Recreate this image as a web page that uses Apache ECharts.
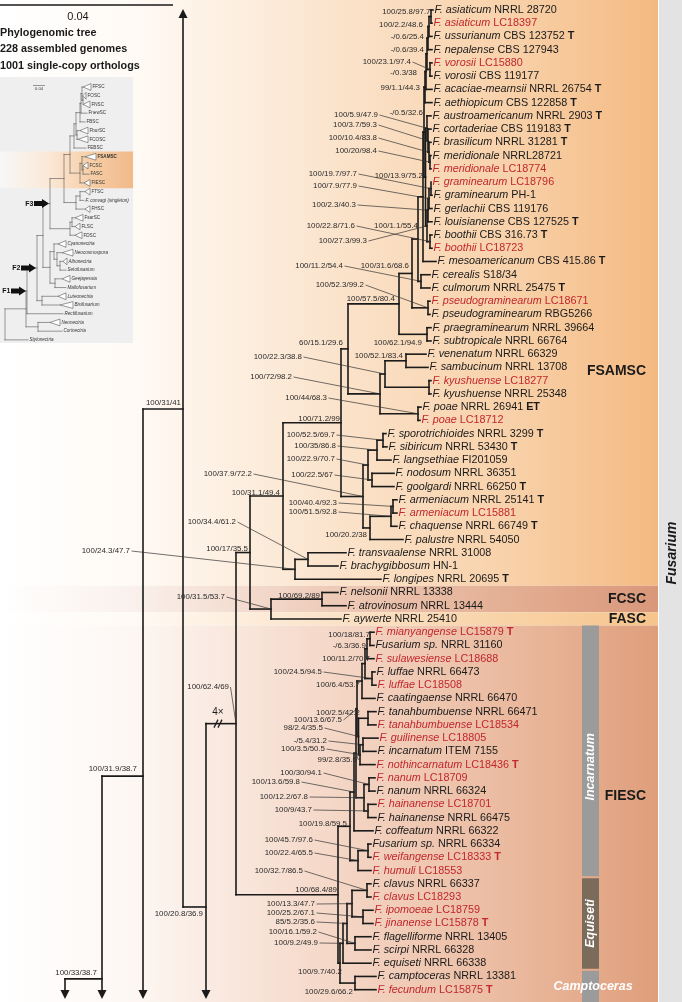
<!DOCTYPE html>
<html><head><meta charset="utf-8">
<script src="https://cdn.jsdelivr.net/npm/echarts@6/dist/echarts.min.js"></script>
<style>html,body{margin:0;padding:0;background:#fff;}#chart{width:682px;height:1002px;}</style>
</head><body><div id="chart"></div>
<script>
// ================= DATA =================
const leafSpecies = ['F. asiaticum','F. asiaticum','F. ussurianum','F. nepalense','F. vorosii','F. vorosii','F. acaciae-mearnsii','F. aethiopicum','F. austroamericanum','F. cortaderiae','F. brasilicum','F. meridionale','F. meridionale','F. graminearum','F. graminearum','F. gerlachii','F. louisianense','F. boothii','F. boothii','F. mesoamericanum','F. cerealis','F. culmorum','F. pseudograminearum','F. pseudograminearum','F. praegraminearum','F. subtropicale','F. venenatum','F. sambucinum','F. kyushuense','F. kyushuense','F. poae','F. poae','F. sporotrichioides','F. sibiricum','F. langsethiae','F. nodosum','F. goolgardi','F. armeniacum','F. armeniacum','F. chaquense','F. palustre','F. transvaalense','F. brachygibbosum','F. longipes','F. nelsonii','F. atrovinosum','F. aywerte','F. mianyangense','Fusarium sp.','F. sulawesiense','F. luffae','F. luffae','F. caatingaense','F. tanahbumbuense','F. tanahbumbuense','F. guilinense','F. incarnatum','F. nothincarnatum','F. nanum','F. nanum','F. hainanense','F. hainanense','F. coffeatum','Fusarium sp.','F. weifangense','F. humuli','F. clavus','F. clavus','F. ipomoeae','F. jinanense','F. flagelliforme','F. scirpi','F. equiseti','F. camptoceras','F. fecundum'];
const leafStrain = ['NRRL 28720','LC18397','CBS 123752','CBS 127943','LC15880','CBS 119177','NRRL 26754','CBS 122858','NRRL 2903','CBS 119183','NRRL 31281','NRRL28721','LC18774','LC18796','PH-1','CBS 119176','CBS 127525','CBS 316.73','LC18723','CBS 415.86','S18/34','NRRL 25475','LC18671','RBG5266','NRRL 39664','NRRL 66764','NRRL 66329','NRRL 13708','LC18277','NRRL 25348','NRRL 26941','LC18712','NRRL 3299','NRRL 53430','FI201059','NRRL 36351','NRRL 66250','NRRL 25141','LC15881','NRRL 66749','NRRL 54050','NRRL 31008','HN-1','NRRL 20695','NRRL 13338','NRRL 13444','NRRL 25410','LC15879','NRRL 31160','LC18688','NRRL 66473','LC18508','NRRL 66470','NRRL 66471','LC18534','LC18805','ITEM 7155','LC18436','LC18709','NRRL 66324','LC18701','NRRL 66475','NRRL 66322','NRRL 66334','LC18333','LC18553','NRRL 66337','LC18293','LC18759','LC15878','NRRL 13405','NRRL 66328','NRRL 66338','NRRL 13381','LC15875'];
const leafMark = ['','','T','','','','T','T','T','T','T','','','','','','T','T','','T','','T','','','','','','','','','ET','','T','T','','','T','T','','T','','','','T','','','','T','','','','','','','','','','T','','','','','','','T','','','','','T','','','','','T'];
const leafNew = [0,1,0,0,1,0,0,0,0,0,0,0,1,1,0,0,0,0,1,0,0,0,1,0,0,0,0,0,1,0,0,1,0,0,0,0,0,0,1,0,0,0,0,0,0,0,0,1,0,1,0,1,0,0,1,1,0,1,1,0,1,0,0,0,1,1,0,1,1,1,0,0,0,0,1];
// depth (x) of each tip, same units as the internal-node depths below (173 units = 0.04 subst./site)
const leafDepth = [433,432,432,432,432,432,432,432,431,431,431,431,431,431,432,432,432,432,432,436,430,430,430,430,431,431,426,428,431,431,421,420,386,387,391,394,394,397,397,397,403,346,338,381,338,346,341,374,374,374,375,376,375,376,376,378,376,375,375,375,376,376,373,371,371,371,371,371,373,373,371,371,371,376,376];

// tree nodes: [id, depth, childA, childB]; numbers = tips; {off} = subtree outside the picture (leaf-row position)
const cladeGraminearum = ['FG', 423,
  ['FGa', 424,
    ['FGb', 425,
      ['FGb1', 426,
        ['FGb2', 427,
          ['FGb3', 428, ['FGb4', 429, ['AS', 431, 1, 2], 3], 4],
          ['VO', 430, 5, 6]],
        7],
      8],
    ['FGc', 425.5,
      ['FGd', 427, 9, ['FGd1', 428, 10, ['FGd2', 429, 11, ['ME', 430, 12, 13]]]],
      ['FGe', 427, ['FGe1', 428, ['FGe2', 429, ['GR', 431, 14, 15], 16], 17], ['BO', 430, 18, 19]]]],
  20];
const cladeSambucinum = ['SROOT', 341,
  ['S1', 348,
    ['S2', 399,
      ['S4', 412, ['S6', 418, cladeGraminearum, ['CC', 421, 21, 22]], ['PG', 428, 23, 24]],
      ['PS', 427, 25, 26]],
    ['S3', 380,
      ['K', 385, ['V', 406, 27, 28], ['KY', 429, 29, 30]],
      ['PO', 418, 31, 32]]],
  ['SP', 363,
    ['N368', 368, ['SL', 377, ['SS', 383, 33, 34], 35], ['NG', 372, 36, 37]],
    ['AP', 370, ['AC', 391, ['AR', 393, 38, 39], 40], 41]]];
const cladeFSAMSC = ['X283', 283, cladeSambucinum, ['X295', 295, ['X308', 308, 42, 43], 44]];
const cladeFCSCFASC = ['X271', 271, ['NA', 322, 45, 46], 47];
const cladeIncarnatum = ['I1', 350,
  ['I2', 354,
    ['I4', 356,
      ['J4', 357,
        ['I7', 362, ['I9', 365, ['I10', 367, ['MF', 370, 48, 49], 50], ['LF', 372, 51, 52]], 53],
        ['J3', 358.5, ['TB', 368, 54, 55], ['J2', 360, ['J1', 363, 56, 57], 58]]],
      ['I6', 364, ['NN', 369, 59, 60], ['HN', 368, 61, 62]]],
    63],
  ['I3', 358, ['WF', 368, 64, 65], 66]];
const cladeEquiseti = ['E0', 340,
  ['E1', 343, ['E2', 347, ['E3', 352, ['CL', 367, 67, 68], ['IJ', 363, 69, 70]], ['FS', 355, 71, 72]], 73],
  ['C1', 355, 74, 75]];
const cladeFIESC = ['I0', 338, cladeIncarnatum, cladeEquiseti];
const backbone = ['G', 65,
  ['F', 102,
    ['E', 143,
      ['D', 183, {off: -6.47},
        ['C', 206, ['A', 236, ['B', 250, cladeFSAMSC, cladeFCSCFASC], cladeFIESC], {off: 82.6}]],
      {off: 86.6}],
    {off: 89.5}],
  {off: 100}];
const brokenBranch = {node: 'A', text: '4×'};

// support values (UFBoot / gCF / sCF)
const supportNodes = ['AS','FGb4','FGb3','FGb2','VO','FGb1','FGb','FGa','FGd','FGd1','FGd2','ME','FGc','GR','FGe2','FGe1','BO','FG','FGe','CC','S4','PG','S2','PS','S1','V','K','S3','PO','SROOT','SS','SL','N368','SP','NG','X283','AR','AC','AP','X308','X295','B','X271','NA','A','D','E','F','C','MF','I10','I9','LF','I7','TB','J4','J3','J1','J2','I4','NN','I2','I6','HN','I1','WF','I3','CL','I0','E3','IJ','E2','FS','E1','E0','C1'];
const supportText = ['100/25.8/97.7','100/2.2/48.6','-/0.6/25.4','-/0.6/39.4','100/23.1/97.4','-/0.3/38','99/1.1/44.3','-/0.5/32.6','100/5.9/47.9','100/3.7/59.3','100/10.4/83.8','100/20/98.4','100/13.9/75.2','100/19.7/97.7','100/7.9/77.9','100/2.3/40.3','100/22.8/71.6','100/1.1/55.4','100/27.3/99.3','100/11.2/54.4','100/31.6/68.6','100/52.3/99.2','100/57.5/80.4','100/62.1/94.9','60/15.1/29.6','100/52.1/83.4','100/22.3/38.8','100/72/98.2','100/44/68.3','100/71.2/99','100/52.5/69.7','100/35/86.8','100/22.9/70.7','100/37.9/72.2','100/22.5/67','100/31.1/49.4','100/40.4/92.3','100/51.5/92.8','100/20.2/38','100/34.4/61.2','100/24.3/47.7','100/17/35.5','100/31.5/53.7','100/69.2/89','100/62.4/69','100/31/41','100/31.9/38.7','100/33/38.7','100/20.8/36.9','100/18/81.7','-/6.3/36.9','100/11.2/70.7','100/24.5/94.5','100/6.4/53.7','100/2.5/42.2','100/13.6/67.5','98/2.4/35.5','-/5.4/31.2','100/3.5/50.5','99/2.8/35.6','100/30/94.1','100/13.6/59.8','100/12.2/67.8','100/9/43.7','100/19.8/59.5','100/45.7/97.6','100/22.4/65.5','100/32.7/86.5','100/68.4/89','100/13.3/47.7','100/25.2/67.1','85/5.2/35.6','100/16.1/59.2','100/9.2/49.9','100/9.7/40.2','100/29.6/66.2'];

const cladeNames = ['FSAMSC','FCSC','FASC','FIESC'];
const cladeFirst = [1,45,47,48];
const cladeLast = [44,46,47,75];
const subcladeNames = ['Incarnatum','Equiseti','Camptoceras'];
const subcladeFirst = [48,67,74];
const subcladeLast = [66,73,75];
const genusName = 'Fusarium';
const titleLines = ['Phylogenomic tree','228 assembled genomes','1001 single-copy orthologs'];
const scaleBarLabel = '0.04';
const scaleBarDepth = 173;

// inset overview tree
const insetNames = ['FFSC','FOSC','FNSC','FnewSC','FBSC','FburSC','FCOSC','FEBSC','FSAMSC','FCSC','FASC','FIESC','FTSC','F. convagi (singleton)','FHSC','FsarSC','FLSC','FDSC','Cyanonectria','Neocosmospora','Albonectria','Setofusarium','Geejayessia','Mallofusarium','Luteonectria','Bisifusarium','Rectifusarium','Neonectria','Corinectria','Stylonectria'];
const insetTip = [91,86,90,87,85,88,88,86,96,88,89,90,90,84,90,83,80,82,66,73,67,66,70,66,66,73,63,60,62,28];
const insetCollapsedFrom = [83,83,83,0,0,80,78,0,85,83,0,84,85,0,85,75,75,75,58,62,63,0,62,0,58,60,0,50,0,0];
const insetItalic = [0,0,0,0,0,0,0,0,0,0,0,0,0,1,0,0,0,0,1,1,1,1,1,1,1,1,1,1,1,1];
const insetTree = ['r', 5,
  ['r1', 26,
    ['F1', 27,
      ['F2', 37,
        ['x2', 43,
          ['F3', 50,
            ['c1', 64,
              ['c2', 70,
                ['c3', 74, ['c4', 76, ['c5', 80, ['c6', 81, ['c7', 82, 1, ['c8', 83, 2, 3]], 4], 5], ['c9', 77, 6, 7]], 8],
                ['c10', 80, ['c11', 82, 9, ['c12', 83, 10, 11]], 12]],
              ['c13', 76, ['c14', 80, 13, 14], 15]],
            ['fb', 70, ['fb1', 72, 16, 17], 18]],
          ['x3', 50, ['x4', 54, 19, ['x5', 57, 20, ['x6', 60, 21, 22]]], ['x7', 55, 23, 24]]],
        ['x8', 42, 25, 26]],
      27],
    ['nc', 38, 28, 29]],
  30];
const insetArrows = ['F1','F2','F3'];
const insetHighlightFirst = 9, insetHighlightLast = 12;

// ================= LAYOUT (positions of annotations, px) =================
const supportPos = [[430.5,12,0],[423,25,0],[424,36.5,0],[424,50,0],[411,62,1],[417,73,0],[420,88,0],[423,113,0],[378,115,1],[377,125,1],[377,138,1],[377,151,1],[423,176,0],[357,174,1],[357,186,1],[356,205,1],[355,226,1],[418,226,0],[367,241,1],[343,266,1],[409,266,0],[364,285,1],[395,299,0],[422,343,0],[343,343,0],[403,356,0],[302,357,1],[292,377,1],[327,398,1],[340,419,0],[335,435,1],[336,446,1],[335,459,1],[252,474,1],[333,475,1],[280,493,0],[337,503,1],[337,512,1],[367,535,0],[236,522,1],[130,551,1],[248,549,0],[225,597,1],[320,596,0],[229,687,1],[181,403,0],[137,769,0],[97,973,0],[203,914,0],[370,635,0],[366,646,0],[370,659,0],[322,672,1],[360,685,0],[360,713,0],[342,720,1],[323,728,1],[327,741,1],[325,749,1],[357,760,1],[322,773,1],[300,782,1],[308,797,1],[312,810,1],[347,824,0],[313,840,1],[313,853,1],[303,871,1],[337,890,0],[315,904,1],[315,913,1],[315,922,1],[317,932,1],[318,943,1],[342,972,0],[353,992,0]];
const cladeLabelRow = [28.3,45.5,47,60.4];

// ================= RENDER =================
const FONT = '"Liberation Sans", Arial, Helvetica, sans-serif';
const INK = '#1a1a1a', RED = '#c1272d';
const ROW0 = 0.25, ROWPX = 13.24;

function layoutTree(n, depthOf, reg) {
  if (typeof n === 'number') return {leaf: n, d: depthOf(n), y: n};
  if (!Array.isArray(n)) return {off: true, y: n.off};
  const a = layoutTree(n[2], depthOf, reg), b = layoutTree(n[3], depthOf, reg);
  const o = {id: n[0], d: n[1], y: (a.y + b.y) / 2, kids: [a, b]};
  reg[n[0]] = o;
  return o;
}
const mainReg = {};
const mainRoot = layoutTree(backbone, i => leafDepth[i - 1], mainReg);
const insetReg = {};
const insetRoot = layoutTree(insetTree, i => insetCollapsedFrom[i - 1] || insetTip[i - 1], insetReg);

function seg(x1, y1, x2, y2, stroke, lw, cap) {
  return {type: 'line', shape: {x1, y1, x2, y2}, style: {stroke, lineWidth: lw, lineCap: cap || 'square'}};
}
function txt(x, y, text, o) {
  return {type: 'text', x, y, rotation: o.rot || 0, style: Object.assign({text, fontFamily: FONT, fontSize: 10, fill: INK, align: 'left', verticalAlign: 'middle'}, o.style)};
}
function drawBranches(o, api, out, opt) {
  const x = api.coord([o.d, o.y])[0];
  const ys = o.kids.map(k => k.off ? (k.y < o.y ? opt.top : opt.bottom) : api.coord([o.d, k.y])[1]);
  out.push(seg(x, ys[0], x, ys[1], opt.stroke, opt.lw));
  o.kids.forEach((k, i) => {
    if (k.off) {
      const dir = k.y < o.y ? -1 : 1;
      out.push({type: 'polygon', shape: {points: [[x - 4.5, ys[i]], [x + 4.5, ys[i]], [x, ys[i] + dir * 9]]}, style: {fill: opt.stroke}});
      return;
    }
    const p = api.coord([k.d, k.y]);
    out.push(seg(x, p[1], p[0], p[1], opt.stroke, opt.lw));
    if (k.leaf) opt.onLeaf(k, p, out);
    else drawBranches(k, api, out, opt);
  });
}
function grad(stops) {
  return new echarts.graphic.LinearGradient(0, 0, 1, 0, stops.map(s => ({offset: s[0], color: s[1]})));
}
const cladeFill = [
  [[0,'#ffffff'],[0.2,'#fffaf5'],[0.5,'#fbe4cd'],[0.78,'#f8d1a9'],[1,'#f4b981']],
  [[0,'#ffffff'],[0.2,'#faf1ec'],[0.5,'#eecbb9'],[0.78,'#e3ae93'],[1,'#d9977a']],
  [[0,'#ffffff'],[0.2,'#fffaf4'],[0.5,'#fbe3c8'],[0.78,'#f8d2a6'],[1,'#f6c48c']],
  [[0,'#ffffff'],[0.2,'#fdf7f3'],[0.5,'#f5d8c8'],[0.78,'#eab99e'],[1,'#df9e7b']]
];
const subFill = ['#9b9b9b','#7b6b5b','#9b9b9b'];

function renderMain(params, api) {
  const cs = params.coordSys;
  const out = [];
  const Y = r => api.coord([0, r])[1];
  // clade bands
  cladeNames.forEach((nm, k) => {
    const y0 = k === 0 ? cs.y : Y(cladeFirst[k] - 0.5);
    const y1 = k === cladeNames.length - 1 ? cs.y + cs.height : Y(cladeLast[k] + 0.5);
    out.push({type: 'rect', shape: {x: cs.x, y: y0, width: 658, height: y1 - y0}, style: {fill: grad(cladeFill[k])}});
  });
  out.push({type: 'rect', shape: {x: 659, y: cs.y, width: 23, height: cs.height}, style: {fill: '#e3e3e3'}});
  // subclade bars
  subcladeNames.forEach((nm, k) => {
    const y0 = Y(subcladeFirst[k] - 0.5) + (k ? 1 : 0), y1 = k === 2 ? cs.y + cs.height : Y(subcladeLast[k] + 0.5) - 1;
    out.push({type: 'rect', shape: {x: 582, y: y0, width: 17, height: y1 - y0}, style: {fill: subFill[k]}});
    const st = {fontSize: 12.5, fontWeight: 'bold', fontStyle: 'italic', fill: '#ffffff', align: 'center'};
    if (k === 2) out.push(txt(593, (y0 + y1) / 2, nm, {style: st}));
    else out.push(txt(591, (y0 + y1) / 2 + (k === 0 ? 16 : 0), nm, {rot: Math.PI / 2, style: st}));
  });
  // clade names
  cladeNames.forEach((nm, k) => out.push(txt(646, Y(cladeLabelRow[k]), nm, {style: {fontSize: 14, fontWeight: 'bold', align: 'right'}})));
  out.push(txt(672, 553, genusName, {rot: Math.PI / 2, style: {fontSize: 14, fontWeight: 'bold', fontStyle: 'italic', align: 'center'}}));
  // title & scale bar
  const x0 = api.coord([0, 1])[0], xs = api.coord([scaleBarDepth, 1])[0];
  out.push(seg(x0, 5, xs, 5, INK, 1.4, 'butt'));
  out.push(txt(78, 16.5, scaleBarLabel, {style: {fontSize: 11, align: 'center'}}));
  titleLines.forEach((t, k) => out.push(txt(0, 33 + k * 16.5, t, {style: {fontSize: 10.8, fontWeight: 'bold'}})));
  // tree
  drawBranches(mainRoot, api, out, {
    top: cs.y + 18, bottom: cs.y + cs.height - 12, stroke: INK, lw: 1.6,
    onLeaf: (k, p, o) => {
      const i = k.leaf - 1, col = leafNew[i] ? RED : INK;
      const base = {fontFamily: FONT, fontSize: 10.8, fill: col, color: col};
      const rich = {i: Object.assign({fontStyle: 'italic'}, base), b: Object.assign({fontWeight: 'bold'}, base)};
      const t = '{i|' + leafSpecies[i] + '} ' + leafStrain[i] + (leafMark[i] ? ' {b|' + leafMark[i] + '}' : '');
      o.push(txt(p[0] + 1.5, p[1], t, {style: {fontSize: 10.8, fill: col, rich}}));
    }
  });
  // broken branch mark
  const bn = mainReg[brokenBranch.node];
  const bp = api.coord([bn.d, bn.y]);
  const bx = bp[0] - 19;
  out.push(txt(bx + 1, bp[1] - 11, brokenBranch.text, {style: {fontSize: 10, align: 'center'}}));
  [0, 4].forEach(dx => out.push(seg(bx - 3 + dx, bp[1] + 4, bx + 1 + dx, bp[1] - 4, INK, 1.2, 'butt')));
  // support labels
  supportNodes.forEach((id, k) => {
    const [rx, ry, lead] = supportPos[k];
    out.push(txt(rx, ry, supportText[k], {style: {fontSize: 7.9, fill: '#2a2a2a', align: 'right'}}));
    if (lead) {
      const n = mainReg[id], p = api.coord([n.d, n.y]);
      out.push(seg(rx + 1.5, ry, p[0], p[1], '#333', 0.7, 'butt'));
    }
  });
  return {type: 'group', children: out};
}

function renderInset(params, api) {
  const cs = params.coordSys;
  const out = [];
  const Y = r => api.coord([0, r])[1];
  out.push({type: 'rect', shape: {x: cs.x, y: cs.y, width: cs.width, height: cs.height}, style: {fill: '#efefef'}});
  const h0 = Y(insetHighlightFirst - 0.6), h1 = Y(insetHighlightLast + 0.6);
  out.push({type: 'rect', shape: {x: cs.x, y: h0, width: cs.width, height: h1 - h0}, style: {fill: grad([[0,'#f7f7f7'],[0.35,'#fbe9d8'],[0.7,'#f6cda5'],[1,'#f1b98a']])}});
  drawBranches(insetRoot, api, out, {
    top: cs.y, bottom: cs.y + cs.height, stroke: '#555', lw: 0.6,
    onLeaf: (k, p, o) => {
      const i = k.leaf - 1;
      const tip = api.coord([insetTip[i], k.y]);
      if (insetCollapsedFrom[i]) o.push({type: 'polygon', shape: {points: [[p[0], p[1]], [tip[0], p[1] - 3.4], [tip[0], p[1] + 3.4]]}, style: {fill: '#ffffff', stroke: '#555', lineWidth: 0.6}});
      o.push(txt(tip[0] + 1.5, p[1], insetNames[i], {style: {fontSize: 4.6, fill: '#333', fontStyle: insetItalic[i] ? 'italic' : 'normal', fontWeight: insetNames[i] === 'FSAMSC' ? 'bold' : 'normal'}}));
    }
  });
  // scale bar
  const s0 = api.coord([33, 0])[0], s1 = api.coord([33 + scaleBarDepth * 12 / 173, 0])[0];
  out.push(seg(s0, 85.5, s1, 85.5, '#555', 0.6, 'butt'));
  out.push(txt((s0 + s1) / 2, 89, scaleBarLabel, {style: {fontSize: 4.4, fill: '#444', align: 'center'}}));
  // node arrows
  insetArrows.forEach(id => {
    const n = insetReg[id], p = api.coord([n.d, n.y]);
    const tx = p[0] - 1, y = p[1];
    out.push({type: 'polygon', shape: {points: [[tx - 15, y - 2.5], [tx - 7, y - 2.5], [tx - 7, y - 4.5], [tx, y], [tx - 7, y + 4.5], [tx - 7, y + 2.5], [tx - 15, y + 2.5]]}, style: {fill: '#111'}});
    out.push(txt(tx - 15.5, y, id, {style: {fontSize: 7, fontWeight: 'bold', align: 'right', fill: '#111'}}));
  });
  return {type: 'group', children: out};
}

const chart = echarts.init(document.getElementById('chart'), null, {renderer: 'canvas'});
chart.setOption({
  backgroundColor: '#ffffff',
  animation: false,
  grid: [
    {left: 0, top: 0, width: 682, height: 1002},
    {left: 0, top: 77, width: 133, height: 266}
  ],
  xAxis: [
    {type: 'value', gridIndex: 0, min: 0, max: 682, show: false},
    {type: 'value', gridIndex: 1, min: 0, max: 133, show: false}
  ],
  yAxis: [
    {type: 'value', gridIndex: 0, inverse: true, min: ROW0, max: ROW0 + 1002 / ROWPX, show: false},
    {type: 'value', gridIndex: 1, inverse: true, min: -0.147, max: -0.147 + 266 / 8.72, show: false}
  ],
  series: [
    {type: 'custom', xAxisIndex: 0, yAxisIndex: 0, silent: true, clip: false, data: [[0, 1]], renderItem: renderMain, z: 1},
    {type: 'custom', xAxisIndex: 1, yAxisIndex: 1, silent: true, clip: false, data: [[0, 1]], renderItem: renderInset, z: 2}
  ]
});
</script></body></html>
